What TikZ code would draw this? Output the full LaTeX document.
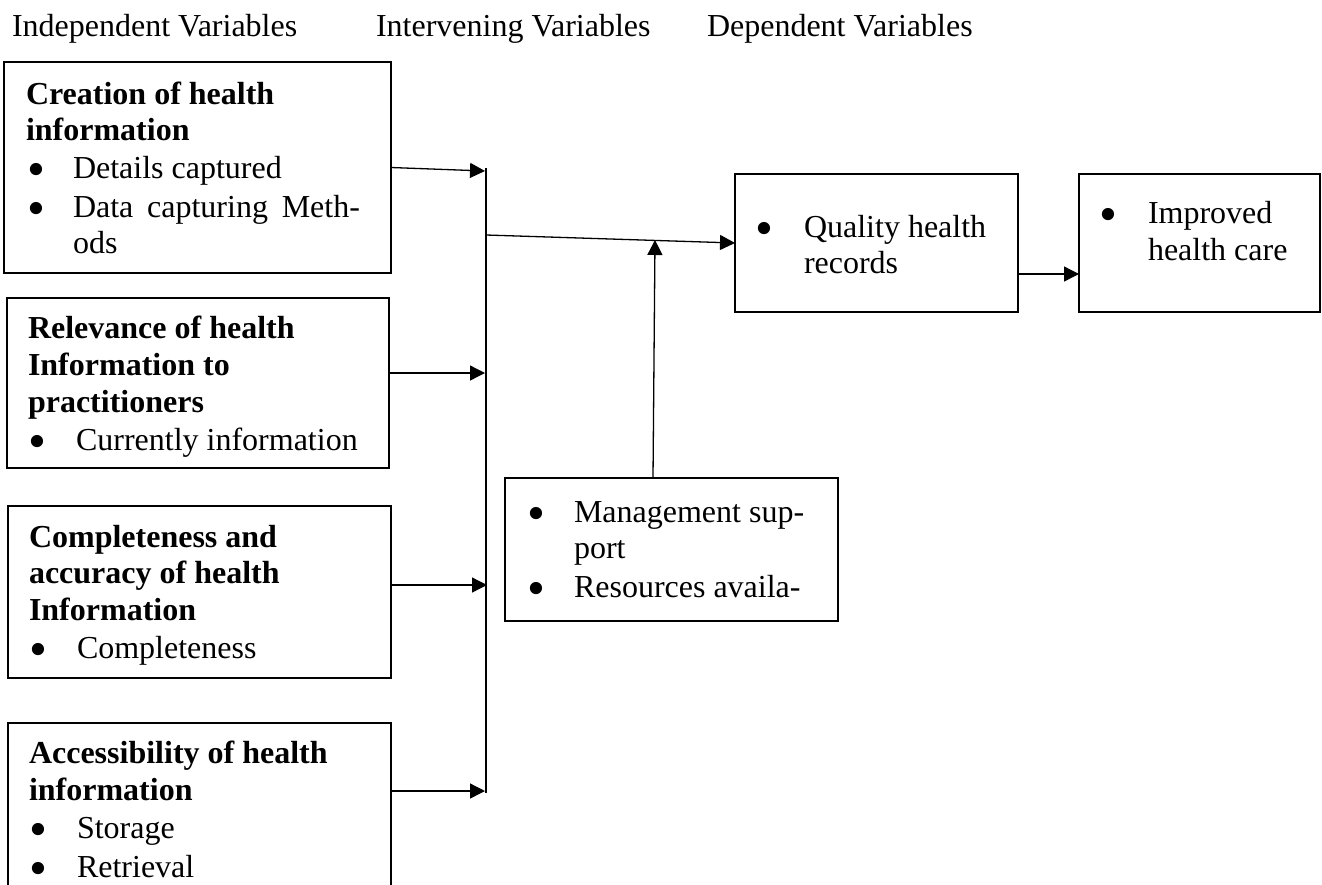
\documentclass[tikz,border=0pt]{standalone}
\usepackage{fontspec}
\setmainfont{Liberation Serif}
\usetikzlibrary{arrows.meta}
\newcommand{\bigbul}{\smash{\raisebox{-4.3pt}{\scalebox{1.6}{•}}}}
\begin{document}
\begin{tikzpicture}[x=0.5pt,y=-0.5pt,
  box/.style={draw,line width=1pt,rectangle,inner sep=0pt,outer sep=0pt,anchor=north west},
  txt/.style={anchor=base west,inner sep=0pt,outer sep=0pt,font=\fontsize{16pt}{18.75pt}\selectfont},
  btxt/.style={anchor=base west,inner sep=0pt,outer sep=0pt,font=\fontsize{16pt}{18.75pt}\selectfont\bfseries},
  arr/.style={line width=0.65pt,-{Triangle[length=7.5pt,width=7.5pt]}},
  ln/.style={line width=0.65pt}]
\useasboundingbox (0,0) rectangle (1322,884);
\clip (0,0) rectangle (1322,884);
% headers
\node[txt] (h1) at (12,36) {Independent Variables};
\node[txt] (h2) at (376,36) {Intervening Variables};
\node[txt] (h3) at (707,36) {Dependent Variables};
% boxes
\node[box,minimum width=193.5pt,minimum height=105.5pt] (b1) at (4,62) {};
\node[box,minimum width=191pt,minimum height=85pt] (b2) at (7,298) {};
\node[box,minimum width=191.5pt,minimum height=86pt] (b3) at (8,506) {};
\node[box,minimum width=191.5pt,minimum height=100pt] (b4) at (8,723) {};
\node[box,minimum width=141.5pt,minimum height=69pt] (q) at (735,174) {};
\node[box,minimum width=120.5pt,minimum height=69pt] (im) at (1079,174) {};
\node[box,minimum width=166.5pt,minimum height=71.5pt] (m) at (505,478) {};
% box 1 text
\node[btxt] (t1a) at (26,104) {Creation of health};
\node[btxt] (t1b) at (26,140) {information};
\node[txt] (t1c) at (27,178) {\bigbul};
\node[txt] (t1d) at (73,178) {Details captured};
\node[txt] (t1e) at (27,217) {\bigbul};
\node[txt] (t1f) at (73,217) {\makebox[143.5pt][s]{Data\hfill capturing\hfill Meth-}};
\node[txt] (t1g) at (73,253) {ods};
% box 2 text
\node[btxt] (t2a) at (28,338) {Relevance of health};
\node[btxt] (t2b) at (28,375) {Information to};
\node[btxt] (t2c) at (28,412) {practitioners};
\node[txt] (t2d) at (28,450) {\bigbul};
\node[txt] (t2e) at (76,450) {Currently information};
% box 3 text
\node[btxt] (t3a) at (29,547) {Completeness and};
\node[btxt] (t3b) at (29,583) {accuracy of health};
\node[btxt] (t3c) at (29,620) {Information};
\node[txt] (t3d) at (29,658) {\bigbul};
\node[txt] (t3e) at (77,658) {Completeness};
% box 4 text
\node[btxt] (t4a) at (29,763) {Accessibility of health};
\node[btxt] (t4b) at (29,800) {information};
\node[txt] (t4c) at (29,838) {\bigbul};
\node[txt] (t4d) at (77,838) {Storage};
\node[txt] (t4e) at (29,877) {\bigbul};
\node[txt] (t4f) at (77,877) {Retrieval};
% quality box text
\node[txt] (tqa) at (755,237) {\bigbul};
\node[txt] (tqb) at (804,237) {Quality health};
\node[txt] (tqc) at (804,273) {records};
% improved box text
\node[txt] (tia) at (1099,223) {\bigbul};
\node[txt] (tib) at (1148,223) {Improved};
\node[txt] (tic) at (1148,260) {health care};
% management box text
\node[txt] (tma) at (527,522) {\bigbul};
\node[txt] (tmb) at (574,522) {Management sup-};
\node[txt] (tmc) at (574,558) {port};
\node[txt] (tmd) at (527,597) {\bigbul};
\node[txt] (tme) at (574,597) {Resources availa-};
% connectors
\coordinate (j1) at (485,171);
\coordinate (j2) at (485,373);
\coordinate (j3) at (487,585);
\coordinate (j4) at (485,791);
\coordinate (bt) at (486,168);
\coordinate (bb) at (486,793);
\coordinate (bq) at (486,235);
\coordinate (mt) at (653,478);
\coordinate (mq) at (655,240);
\coordinate (qi) at (1050,274);
\draw[arr] (b1.east) -- (j1);
\draw[arr] (b2.east |- j2) -- (j2);
\draw[arr] (b3.east |- j3) -- (j3);
\draw[arr] (b4.east |- j4) -- (j4);
\draw[ln] (bt) -- (bb);
\draw[arr] (bq) -- (q.west);
\draw[arr] (mt) -- (mq);
\draw[arr] (q.east |- qi) -- (im.west |- qi);
\end{tikzpicture}
\end{document}
